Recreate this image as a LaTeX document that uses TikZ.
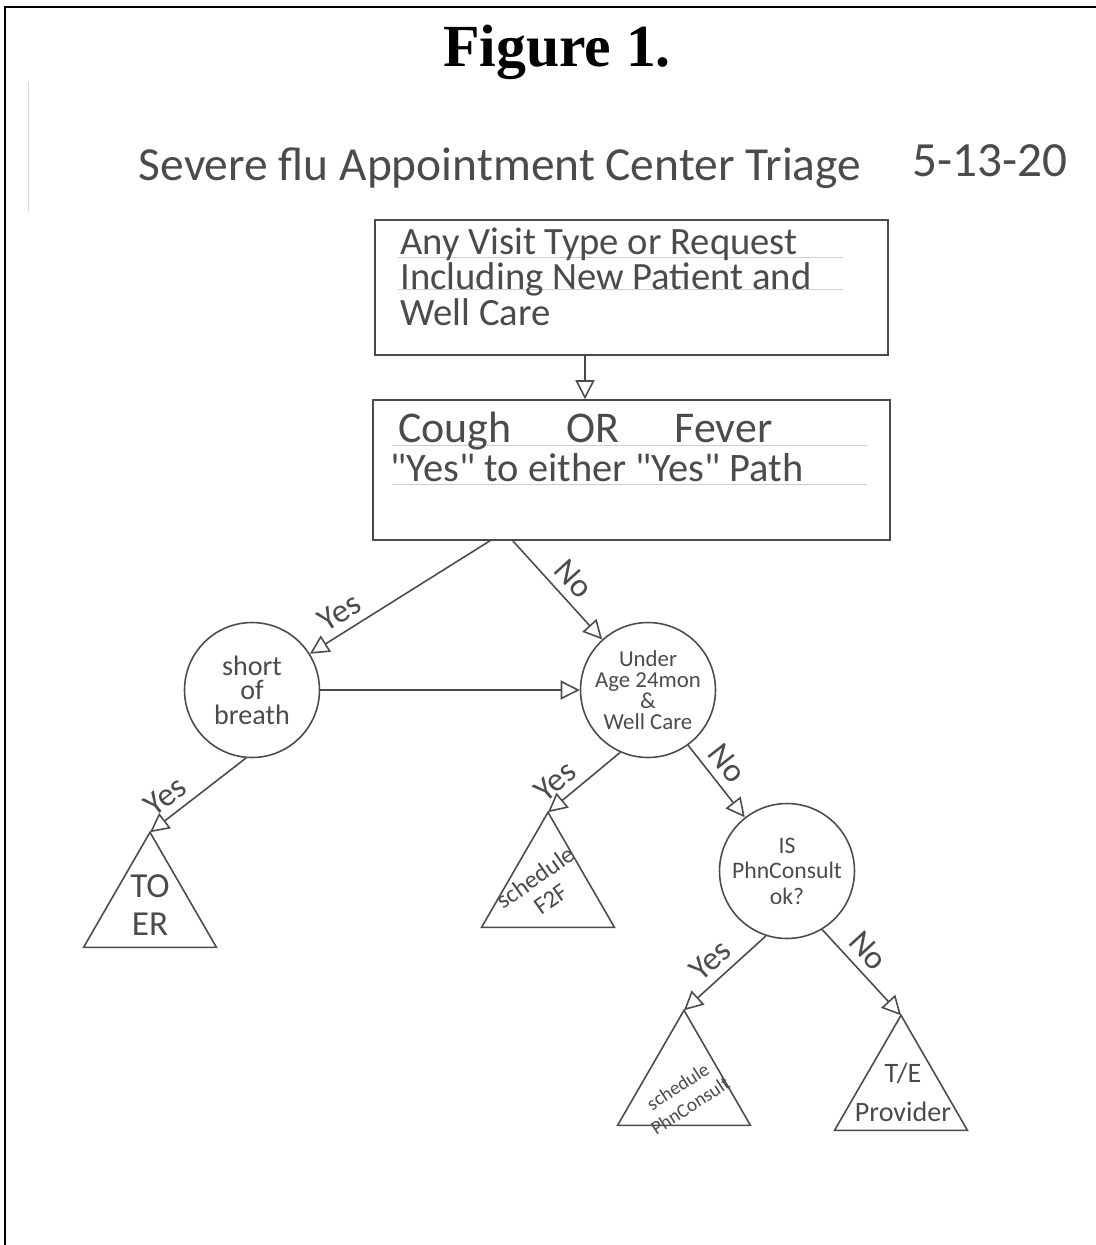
\documentclass[tikz,border=0pt]{standalone}
\usepackage{fontspec}
\setmainfont{Liberation Serif}
\newfontfamily\handfont{Carlito}
\usetikzlibrary{arrows.meta,shapes.geometric,calc}
\definecolor{pencil}{RGB}{75,75,75}
\definecolor{ruling}{RGB}{205,205,205}
\newcommand{\hsz}[2]{\handfont\fontsize{#1}{#2}\selectfont}
\begin{document}
\begin{tikzpicture}[x=0.02cm,y=-0.02cm,
  hand/.style={font=\handfont, text=pencil},
  stepbox/.style={draw=pencil, line width=0.9pt, rectangle},
  decide/.style={draw=pencil, line width=0.9pt, circle, minimum size=2.7cm, inner sep=0pt, align=center, hand},
  outcome/.style={draw=pencil, line width=0.9pt, regular polygon, regular polygon sides=3, minimum size=3.07cm, inner sep=0pt, outer sep=0pt},
  flow/.style={draw=pencil, line width=0.9pt, -{Triangle[open, length=3.8mm, width=3.8mm]}},
  ans/.style={hand, font=\hsz{19}{19}, inner sep=4.5pt, sloped, above},
  ruled/.style={draw=ruling, line width=0.5pt}]
\useasboundingbox (0,0) rectangle (1096,1245);
% page frame
\draw[line width=1.2pt] (5,1245) -- (5,7) -- (1096,7);
\draw[black!15, line width=0.5pt] (28,82) -- (28,212);
% headings
\node[font=\bfseries\fontsize{34}{34}\selectfont] (title) at (557,52) {Figure 1.};
\node[hand, font=\hsz{27}{27}, anchor=base] (heading) at (500,180) {Severe flu Appointment Center Triage};
\node[hand, font=\hsz{28}{28}, anchor=base] (date) at (990,176) {5-13-20};
% boxes
\node[stepbox, minimum width=10.26cm, minimum height=2.7cm] (visit) at (631.5,287.5) {};
\node[stepbox, minimum width=10.34cm, minimum height=2.8cm] (cough) at (631.5,470) {};
\foreach \y in {257,289} \draw[ruled] (398,\y) -- (843,\y);
\foreach \y in {445,484} \draw[ruled] (392,\y) -- (867,\y);
\node[hand, font=\hsz{22}{18.5}, anchor=north west, align=left, inner sep=0pt] (visittext) at (400,228)
  {Any Visit Type or Request\\Including New Patient and\\Well Care};
\node[hand, font=\hsz{25}{25}, anchor=base west, inner sep=0pt] (coughtext) at (398,442)
  {Cough\hspace{1.1cm}OR\hspace{1.1cm}Fever};
\node[hand, font=\hsz{23}{23}, anchor=base west, inner sep=0pt] (eithertext) at (390,481)
  {"Yes" to either "Yes" Path};
% decisions
\node[decide, font=\hsz{16}{14}] (breath) at (252,690) {short\\of\\breath};
\node[decide, font=\hsz{13}{12}] (under) at (648,690) {Under\\Age 24mon\\\&\\Well Care};
\node[decide, font=\hsz{13.5}{14.5}] (phn) at (787,871) {IS\\PhnConsult\\ok?};
% outcomes
\node[outcome] (er) at (150,909) {};
\node[outcome] (f2f) at (548,889) {};
\node[outcome] (schedphn) at (684,1087) {};
\node[outcome] (provider) at (901,1092) {};
\node[hand, font=\hsz{20}{21.5}, align=center] (ertext) at (150,905) {TO\\ER};
\node[hand, font=\hsz{14}{15}, align=center, rotate=35] (f2ftext) at (543,888) {schedule\\F2F};
\node[hand, font=\hsz{11}{13}, align=center, rotate=33] (phntext) at (684,1096) {schedule\\PhnConsult};
\node[hand, font=\hsz{16}{22}, align=center] (providertext) at (903,1092) {T/E\\Provider};
% connectors
\draw[flow] (visit.south -| 585,0) -- (cough.north -| 585,0);
\draw[flow] ($(cough.south west)!0.227!(cough.south east)$) -- (breath) node[ans, pos=.78] {Yes};
\draw[flow] ($(cough.south west)!0.271!(cough.south east)$) -- (under) node[ans, pos=.52] {No};
\draw[flow] (breath) -- (under);
\draw[flow] (breath.265) -- (er.corner 1) node[ans, pos=.72] {Yes};
\draw[flow] (under.246) -- (f2f.corner 1) node[ans, pos=.73] {Yes};
\draw[flow] (under.306) -- (phn) node[ans, pos=.42] {No};
\draw[flow] (phn.252) -- (schedphn.corner 1) node[ans, pos=.52] {Yes};
\draw[flow] (phn.301) -- (provider.corner 1) node[ans, pos=.4] {No};
\end{tikzpicture}
\end{document}
